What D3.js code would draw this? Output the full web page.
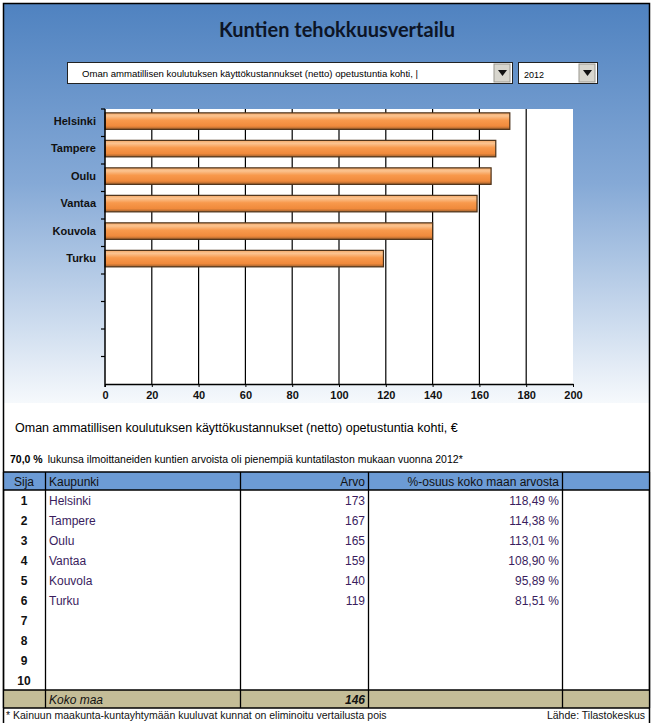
<!DOCTYPE html>
<html><head><meta charset="utf-8">
<script src="https://cdn.jsdelivr.net/npm/d3@7"></script>
<style>body{margin:0;background:#fff;} svg{display:block;}</style>
</head><body>
<svg id="c" width="653" height="723"></svg>
<script>
const title = "Kuntien tehokkuusvertailu";
const indicator = "Oman ammatillisen koulutuksen käyttökustannukset (netto) opetustuntia kohti, |";
const year = "2012";
const cities = ["Helsinki","Tampere","Oulu","Vantaa","Kouvola","Turku"];
const values = [173,167,165,159,140,119];
const shares = ["118,49 %","114,38 %","113,01 %","108,90 %","95,89 %","81,51 %"];
const ranks = [1,2,3,4,5,6,7,8,9,10];
const xTicks = [0,20,40,60,80,100,120,140,160,180,200];
const subtitle = "Oman ammatillisen koulutuksen käyttökustannukset (netto) opetustuntia kohti, €";
const pctText = "70,0 %";
const noteText = "lukunsa ilmoittaneiden kuntien arvoista oli pienempiä kuntatilaston mukaan vuonna 2012*";
const headers = ["Sija","Kaupunki","Arvo","%-osuus koko maan arvosta"];
const totalLabel = "Koko maa";
const totalValue = 146;
const footnote = "* Kainuun maakunta-kuntayhtymään kuuluvat kunnat on eliminoitu vertailusta pois";
const source = "Lähde: Tilastokeskus";

const svg = d3.select("#c");
const defs = svg.append("defs");
const bg = defs.append("linearGradient").attr("id","bg").attr("x1",0).attr("y1",0).attr("x2",0).attr("y2",1);
bg.append("stop").attr("offset","0%").attr("stop-color","#4f82c0");
bg.append("stop").attr("offset","45%").attr("stop-color","#85a9d6");
bg.append("stop").attr("offset","100%").attr("stop-color","#f6f9fc");
const bar = defs.append("linearGradient").attr("id","bar").attr("x1",0).attr("y1",0).attr("x2",0).attr("y2",1);
bar.append("stop").attr("offset","0%").attr("stop-color","#f4a866");
bar.append("stop").attr("offset","18%").attr("stop-color","#fbc491");
bar.append("stop").attr("offset","45%").attr("stop-color","#f8994c");
bar.append("stop").attr("offset","80%").attr("stop-color","#f08a3c");
bar.append("stop").attr("offset","100%").attr("stop-color","#a0602c");

// background panel
svg.append("rect").attr("x",3).attr("y",3).attr("width",646).attr("height",400).attr("fill","url(#bg)");
svg.append("rect").attr("x",3).attr("y",403).attr("width",646).attr("height",320).attr("fill","#fff");
// outer border
svg.append("path").attr("d","M3.5,723 V3.5 H649.5 V723").attr("fill","none").attr("stroke","#000").attr("stroke-width",1.5);

svg.append("text").attr("x",337).attr("y",37).attr("text-anchor","middle")
  .attr("font-family","Lato, 'Open Sans', sans-serif").attr("font-weight","bold").attr("font-size",20).attr("fill","#0d1526").text(title);

// dropdowns
function dropdown(x,w,label,tw){
  const g = svg.append("g");
  g.append("rect").attr("x",x+0.5).attr("y",62.5).attr("width",w).attr("height",21).attr("fill","#fff").attr("stroke","#222");
  g.append("rect").attr("x",x+w-18).attr("y",64).attr("width",16).attr("height",18).attr("fill","#d8d6ce").attr("stroke","#9a9890");
  g.append("path").attr("d",`M${x+w-14},70 h9 l-4.5,6 z`).attr("fill","#111");
  const t = g.append("text").attr("x",x+15).attr("y",77).attr("font-family","Arial, sans-serif").attr("font-size",9).attr("fill","#000").text(label);
  if(tw) t.attr("textLength",tw).attr("lengthAdjust","spacingAndGlyphs");
}
dropdown(67,445,indicator,336);
svg.append("rect").attr("x",518.5).attr("y",62.5).attr("width",79).attr("height",21).attr("fill","#fff").attr("stroke","#222");
svg.append("rect").attr("x",579).attr("y",64).attr("width",16).attr("height",18).attr("fill","#d8d6ce").attr("stroke","#9a9890");
svg.append("path").attr("d","M583,70 h9 l-4.5,6 z").attr("fill","#111");
svg.append("text").attr("x",524).attr("y",78).attr("font-family","Arial, sans-serif").attr("font-size",9).attr("fill","#000").text(year);

// chart
const x = d3.scaleLinear().domain([0,200]).range([105,573]);
const y = d3.scaleBand().domain(ranks).range([109,384]).paddingInner(0).paddingOuter(0);
svg.append("rect").attr("x",105).attr("y",109).attr("width",468).attr("height",275).attr("fill","#fff");
svg.append("g").selectAll("line").data(xTicks.slice(1,-1)).join("line")
  .attr("x1",d=>x(d)).attr("x2",d=>x(d)).attr("y1",109).attr("y2",384).attr("stroke","#000").attr("stroke-width",1.2);

const bh = y.bandwidth()*0.6;
svg.append("g").selectAll("rect").data(values).join("rect")
  .attr("x",x(0)).attr("y",(d,i)=>y(ranks[i])+y.bandwidth()*0.14)
  .attr("width",d=>x(d)-x(0)).attr("height",bh)
  .attr("fill","url(#bar)").attr("stroke","#4a3018").attr("stroke-width",1.2);

// x axis
const xa = svg.append("g").attr("transform","translate(0,384)")
  .call(d3.axisBottom(x).tickValues(xTicks).tickSizeInner(3).tickSizeOuter(0).tickPadding(4).tickFormat(d3.format("d")));
xa.select(".domain").attr("stroke","#000").attr("stroke-width",1.5);
xa.selectAll("text").attr("font-family","Arial, sans-serif").attr("font-weight","bold").attr("font-size",11).attr("fill","#111");

// y axis
svg.append("line").attr("x1",105).attr("x2",105).attr("y1",109).attr("y2",387).attr("stroke","#000").attr("stroke-width",1.5);
svg.append("g").selectAll("line").data(ranks).join("line")
  .attr("x1",101).attr("x2",105).attr("y1",d=>y(d)).attr("y2",d=>y(d)).attr("stroke","#000").attr("stroke-width",1.2);
svg.append("g").selectAll("text").data(cities).join("text")
  .attr("x",96).attr("y",(d,i)=>y(ranks[i])+y.bandwidth()*0.43+4).attr("text-anchor","end")
  .attr("font-family","Arial, sans-serif").attr("font-weight","bold").attr("font-size",11).attr("fill","#111").text(d=>d);

// texts
svg.append("text").attr("x",15).attr("y",432).attr("font-family","Arial, sans-serif").attr("font-size",12.5).attr("fill","#000").text(subtitle);
svg.append("text").attr("x",10).attr("y",463).attr("font-family","Arial, sans-serif").attr("font-size",10.5).attr("fill","#000")
  .call(t=>{t.append("tspan").attr("font-weight","bold").text(pctText); t.append("tspan").attr("dx",5).text(noteText);});

// table
const cols = [3,45,240,368,562,649];
const hTop = 472, hBot = 490, rowH = 20, tTop = hBot + rowH*10, tBot = tTop+18;
svg.append("rect").attr("x",3).attr("y",hTop).attr("width",646).attr("height",hBot-hTop).attr("fill","#6c9bd5");
svg.append("rect").attr("x",3).attr("y",tTop).attr("width",646).attr("height",tBot-tTop).attr("fill","#c4bd97");
[hTop,hBot,tTop,tBot].forEach(yy=>svg.append("line").attr("x1",3).attr("x2",649).attr("y1",yy).attr("y2",yy).attr("stroke","#000").attr("stroke-width",1.3));
cols.forEach(cx=>svg.append("line").attr("x1",cx+0.5).attr("x2",cx+0.5).attr("y1",hTop).attr("y2",tBot).attr("stroke","#000").attr("stroke-width",1.3));

const tf = "Arial, sans-serif";
const hy = hBot-4;
svg.append("text").attr("x",24).attr("y",hy).attr("text-anchor","middle").attr("font-family",tf).attr("font-size",12).attr("fill","#111").text(headers[0]);
svg.append("text").attr("x",49).attr("y",hy).attr("font-family",tf).attr("font-size",12).attr("fill","#111").text(headers[1]);
svg.append("text").attr("x",365).attr("y",hy).attr("text-anchor","end").attr("font-family",tf).attr("font-size",12).attr("fill","#111").text(headers[2]);
svg.append("text").attr("x",559).attr("y",hy).attr("text-anchor","end").attr("font-family",tf).attr("font-size",12).attr("fill","#111").text(headers[3]);

const ry = i => hBot + rowH*i + 15;
svg.append("g").selectAll("text").data(ranks).join("text").attr("x",24).attr("y",(d,i)=>ry(i)).attr("text-anchor","middle")
  .attr("font-family",tf).attr("font-weight","bold").attr("font-size",12).attr("fill","#111").text(d=>d);
svg.append("g").selectAll("text").data(cities).join("text").attr("x",49).attr("y",(d,i)=>ry(i))
  .attr("font-family",tf).attr("font-size",12).attr("fill","#3a1d5e").text(d=>d);
svg.append("g").selectAll("text").data(values).join("text").attr("x",365).attr("y",(d,i)=>ry(i)).attr("text-anchor","end")
  .attr("font-family",tf).attr("font-size",12).attr("fill","#3a1d5e").text(d=>d);
svg.append("g").selectAll("text").data(shares).join("text").attr("x",559).attr("y",(d,i)=>ry(i)).attr("text-anchor","end")
  .attr("font-family",tf).attr("font-size",12).attr("fill","#3a1d5e").text(d=>d);

svg.append("text").attr("x",49).attr("y",tBot-4).attr("font-family",tf).attr("font-style","italic").attr("font-size",12).attr("fill","#111").text(totalLabel);
svg.append("text").attr("x",365).attr("y",tBot-4).attr("text-anchor","end").attr("font-family",tf).attr("font-style","italic").attr("font-weight","bold").attr("font-size",12).attr("fill","#111").text(totalValue);

svg.append("text").attr("x",6).attr("y",719).attr("font-family",tf).attr("font-size",10.5).attr("fill","#111").text(footnote);
svg.append("text").attr("x",645).attr("y",719).attr("text-anchor","end").attr("font-family",tf).attr("font-size",10.5).attr("fill","#111").text(source);
</script>
</body></html>
